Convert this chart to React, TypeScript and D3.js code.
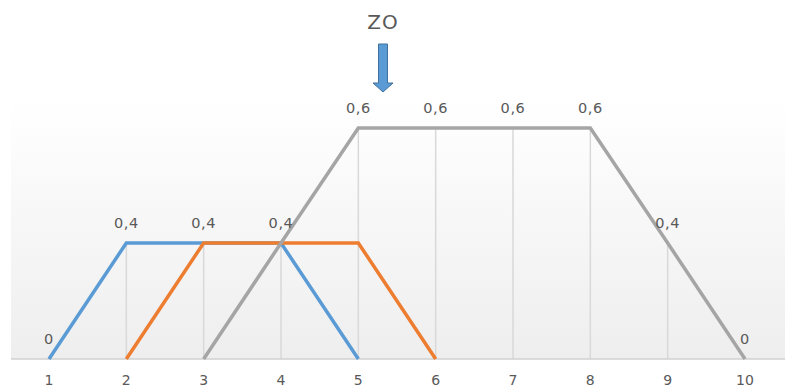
import React from "react";
import * as d3 from "d3";

// Categories on the horizontal axis
const categories = [1, 2, 3, 4, 5, 6, 7, 8, 9, 10];

// Membership values per category (null = not defined there)
const seriesBlue = [0, 0.4, 0.4, 0.4, 0, null, null, null, null, null];
const seriesOrange = [null, 0, 0.4, 0.4, 0.4, 0, null, null, null, null];
const seriesGray = [null, null, 0, 0.4, 0.6, 0.6, 0.6, 0.6, 0.4, 0];

// Data labels drawn above the upper envelope
const labelTexts = ["0", "0,4", "0,4", "0,4", "0,6", "0,6", "0,6", "0,6", "0,4", "0"];
const labelValues = [0, 0.4, 0.4, 0.4, 0.6, 0.6, 0.6, 0.6, 0.4, 0];

const titleText = "ZO";

const W = 803;
const H = 390;
const plotLeft = 11;
const plotRight = 785;
const plotTop = 100;
const baseY = 359;

const colors = ["#5b9bd5", "#ed7d31", "#a5a5a5"];
const textColor = "#595959";

export default function App() {
  const x = d3
    .scalePoint<number>()
    .domain(categories)
    .range([49, 745]);

  const y = d3
    .scaleLinear()
    .domain([0, 0.4, 0.6])
    .range([baseY, 243, 128]);

  const line = d3
    .line<number | null>()
    .defined((d) => d !== null)
    .x((_, i) => x(categories[i]) as number)
    .y((d) => y(d as number));

  const all = [seriesBlue, seriesOrange, seriesGray];
  const maxAt = categories.map((_, i) =>
    d3.max(all, (s) => (s[i] === null ? undefined : (s[i] as number))) ?? 0
  );

  const font = "'DejaVu Sans', Verdana, sans-serif";
  const arrowX = 383;

  return (
    <svg
      width={W}
      height={H}
      style={{ position: "absolute", left: 0, top: 0, background: "#ffffff" }}
    >
      <defs>
        <linearGradient id="plotBg" x1="0" y1="0" x2="0" y2="1">
          <stop offset="0" stopColor="#ffffff" />
          <stop offset="1" stopColor="#eeeeee" />
        </linearGradient>
      </defs>
      <rect
        x={plotLeft}
        y={plotTop}
        width={plotRight - plotLeft}
        height={baseY - plotTop}
        fill="url(#plotBg)"
      />

      {/* drop lines */}
      {categories.map((c, i) =>
        maxAt[i] > 0 ? (
          <line
            key={"d" + c}
            x1={x(c)}
            x2={x(c)}
            y1={y(maxAt[i])}
            y2={baseY}
            stroke="#d9d9d9"
            strokeWidth={1.5}
          />
        ) : null
      )}

      {/* category axis */}
      <line x1={plotLeft} x2={plotRight} y1={baseY} y2={baseY} stroke="#d0d0d0" strokeWidth={1.5} />
      {categories.map((c) => (
        <text
          key={"t" + c}
          x={x(c)}
          y={385}
          textAnchor="middle"
          fontFamily={font}
          fontSize={14}
          fill={textColor}
        >
          {c}
        </text>
      ))}

      {/* series */}
      {all.map((s, k) => (
        <path
          key={"s" + k}
          d={line(s) ?? ""}
          fill="none"
          stroke={colors[k]}
          strokeWidth={3.5}
          strokeLinejoin="miter"
        />
      ))}

      {/* data labels */}
      {categories.map((c, i) => (
        <text
          key={"l" + c}
          x={x(c)}
          y={y(labelValues[i]) - 15}
          textAnchor="middle"
          fontFamily={font}
          fontSize={14.5}
          letterSpacing={0.6}
          fill={textColor}
        >
          {labelTexts[i]}
        </text>
      ))}

      {/* title and arrow */}
      <text
        x={arrowX}
        y={29}
        textAnchor="middle"
        fontFamily={font}
        fontSize={20}
        letterSpacing={1}
        fill={textColor}
      >
        {titleText}
      </text>
      <path
        d={`M${arrowX - 4.5},44 H${arrowX + 4.5} V83 H${arrowX + 10} L${arrowX},92 L${arrowX - 10},83 H${arrowX - 4.5} Z`}
        fill="#5b9bd5"
        stroke="#41719c"
        strokeWidth={1}
      />
    </svg>
  );
}
